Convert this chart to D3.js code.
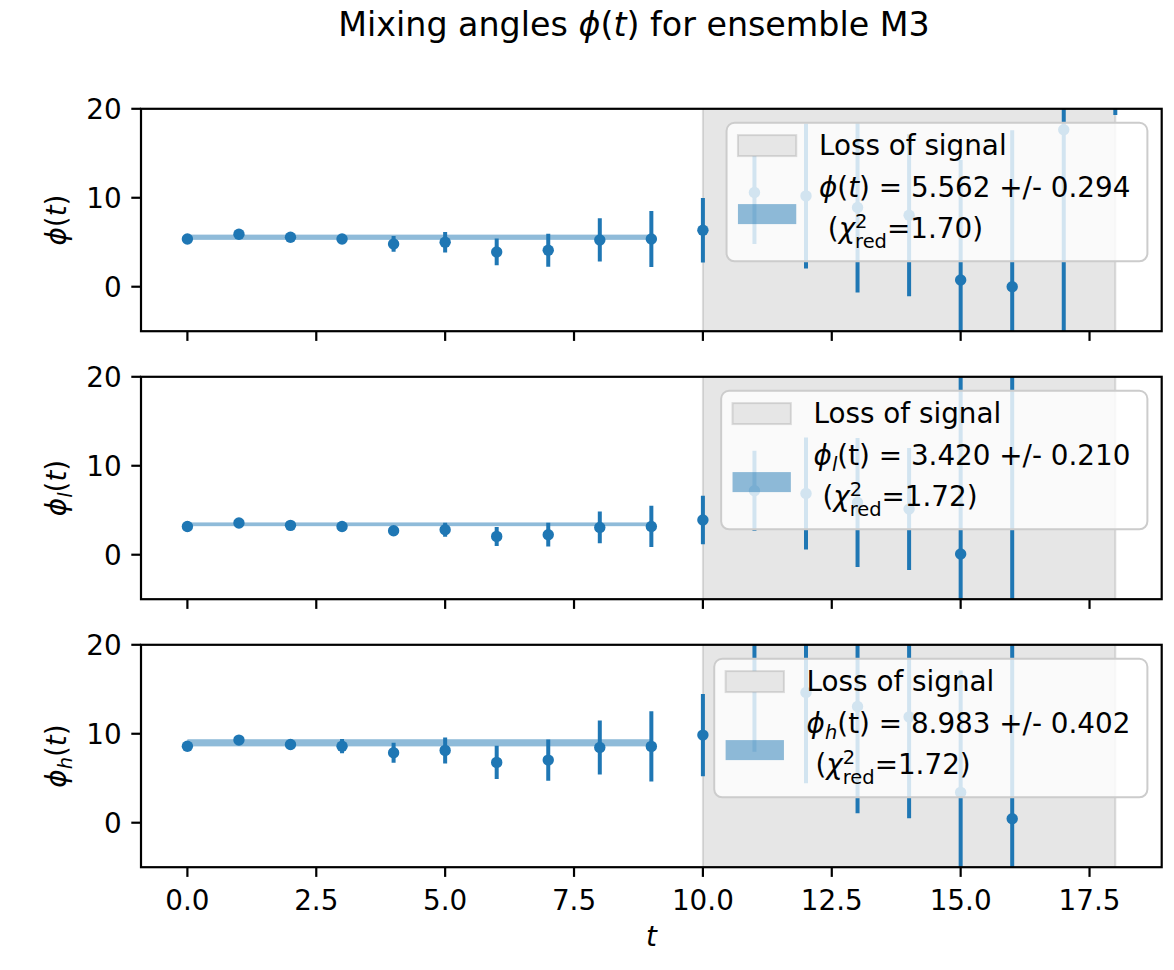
<!DOCTYPE html>
<html><head><meta charset="utf-8">
<script src="https://cdn.jsdelivr.net/npm/d3@7"></script>
<style>
body{margin:0;background:#fff}
text{font-family:"DejaVu Sans";fill:#000;white-space:pre}
</style></head>
<body><svg id="c" width="1174" height="970"></svg>
<script>
// ---------------- data ----------------
const tValues = [0,1,2,3,4,5,6,7,8,9,10,11,12,13,14,15,16,17,18];
const phiVal  = [5.37,5.90,5.56,5.37,4.81,5.00,3.91,4.10,5.26,5.37,6.35,10.59,10.21,8.90,8.04,0.75,0.00,17.65,30.0];
const phiErr  = [0.25,0.30,0.35,0.45,0.88,1.16,1.50,1.85,2.43,3.15,3.63,5.80,8.15,9.55,9.10,13.5,17.6,25.0,10.7];
const phiLVal = [3.18,3.56,3.30,3.18,2.70,2.81,2.06,2.25,3.07,3.18,3.90,7.19,6.89,5.88,5.13,0.08,-8.0,null,null];
const phiLErr = [0.20,0.25,0.30,0.35,0.50,0.79,1.07,1.33,1.78,2.32,2.73,4.50,6.30,7.25,6.86,22.0,35.0,null,null];
const phiHVal = [8.60,9.29,8.80,8.60,7.87,8.13,6.78,7.04,8.46,8.58,9.85,15.28,14.64,13.07,11.90,3.41,0.45,null,null];
const phiHErr = [0.30,0.35,0.45,0.80,1.12,1.46,1.87,2.32,3.03,3.95,4.63,7.30,10.2,12.0,11.4,13.7,25.0,null,null];
const fitVal = [5.562, 3.420, 8.983];
const fitErr = [0.294, 0.210, 0.402];
const fitChi = ["1.70", "1.72", "1.72"];
const fitRange = [0, 9];
const lossRange = [10, 18];
const xTicks = [0, 2.5, 5, 7.5, 10, 12.5, 15, 17.5];
const yTicks = [0, 10, 20];
const subs = ["", "l", "h"];

// ---------------- layout ----------------
const svg = d3.select("#c");
const C0 = "#1f77b4";
const FS = 27.8;
const L = 141, R = 1161.7, PH = 222.4;
const tops = [108.8, 376.8, 644.8];
const x = d3.scaleLinear().domain([-0.9, 18.9]).range([L, R]);

// rich text helper -> one <text> element with positioned tspans
// pieces {t, i(italic), s(scale), dy(em shift), st (1=stack start, 2=stack second)}
function rich(parent, pieces, fs, anchor) {
  const meas = svg.append("text").attr("font-size", fs);
  let cx = 0, sx = 0, sw = 0;
  const pos = [];
  pieces.forEach(p => {
    const size = fs * (p.s || 1);
    meas.attr("font-size", size).attr("font-style", p.i ? "italic" : "normal").text(p.t);
    const w = meas.node().getComputedTextLength();
    if (p.st === 2) cx = sx;
    pos.push({p, x: cx, size});
    if (p.st === 1) { sx = cx; sw = w; cx += w; }
    else if (p.st === 2) { cx = sx + Math.max(sw, w); }
    else cx += w;
  });
  meas.remove();
  const off = anchor === "middle" ? -cx / 2 : 0;
  const t = parent.append("text").attr("font-size", fs);
  pos.forEach(o => {
    t.append("tspan").attr("x", o.x + off).attr("y", (o.p.dy || 0) * fs)
      .attr("font-size", o.size).attr("font-style", o.p.i ? "italic" : "normal").text(o.p.t);
  });
  t.node().__w = cx;
  return t;
}
function phiPieces(sub, tItalic) {
  const a = [{t:"\u03D5", i:1}];
  if (sub) a.push({t:sub, i:1, s:0.7, dy:0.22});
  a.push({t:"("}, {t:"t", i:tItalic?1:0}, {t:")"});
  return a;
}

// title
rich(svg, [{t:"Mixing angles "},{t:"\u03D5",i:1},{t:"("},{t:"t",i:1},{t:")"},{t:" for ensemble M3"}], 33.3, "middle")
  .attr("transform", "translate(634,35.5)");

const series = [[phiVal, phiErr], [phiLVal, phiLErr], [phiHVal, phiHErr]];

series.forEach((sd, k) => {
  const top = tops[k];
  const y = d3.scaleLinear().domain([-5, 20]).range([top + PH, top]);
  const clipId = "clip" + k;
  svg.append("clipPath").attr("id", clipId).append("rect")
    .attr("x", L).attr("y", top).attr("width", R - L).attr("height", PH);
  const g = svg.append("g").attr("clip-path", `url(#${clipId})`);

  // loss of signal span
  g.append("rect").attr("x", x(lossRange[0])).attr("width", x(lossRange[1]) - x(lossRange[0]))
    .attr("y", top - 5).attr("height", PH + 10)
    .attr("fill", "#e6e6e6").attr("stroke", "rgba(128,128,128,0.25)").attr("stroke-width", 2);

  // fit band
  g.append("rect").attr("x", x(fitRange[0])).attr("width", x(fitRange[1]) - x(fitRange[0]))
    .attr("y", y(fitVal[k] + fitErr[k])).attr("height", y(fitVal[k] - fitErr[k]) - y(fitVal[k] + fitErr[k]))
    .attr("fill", C0).attr("fill-opacity", 0.5);

  // error bars + points
  const pts = tValues.map((t, i) => ({t, v: sd[0][i], e: sd[1][i]})).filter(d => d.v !== null);
  g.selectAll(".eb").data(pts).join("line")
    .attr("x1", d => x(d.t)).attr("x2", d => x(d.t))
    .attr("y1", d => y(d.v - d.e)).attr("y2", d => y(d.v + d.e))
    .attr("stroke", C0).attr("stroke-width", 4);
  g.selectAll(".pt").data(pts).join("circle")
    .attr("cx", d => x(d.t)).attr("cy", d => y(d.v)).attr("r", 5.7).attr("fill", C0);

  // axes
  const ax = svg.append("g");
  ax.append("rect").attr("x", L).attr("y", top).attr("width", R - L).attr("height", PH)
    .attr("fill", "none").attr("stroke", "#000").attr("stroke-width", 2.2);
  yTicks.forEach(v => {
    ax.append("line").attr("x1", L).attr("x2", L - 9.7).attr("y1", y(v)).attr("y2", y(v))
      .attr("stroke", "#000").attr("stroke-width", 2.2);
    ax.append("text").attr("x", L - 19.4).attr("y", y(v)).attr("dy", "0.36em")
      .attr("text-anchor", "end").attr("font-size", FS).text(v);
  });
  xTicks.forEach(v => {
    ax.append("line").attr("x1", x(v)).attr("x2", x(v)).attr("y1", top + PH).attr("y2", top + PH + 9.7)
      .attr("stroke", "#000").attr("stroke-width", 2.2);
    if (k === 2) ax.append("text").attr("x", x(v)).attr("y", top + PH + 42.3)
      .attr("text-anchor", "middle").attr("font-size", FS).text(v.toFixed(1));
  });
  // y label
  rich(ax, phiPieces(subs[k], true), FS, "middle")
    .attr("transform", `translate(66,${top + PH/2}) rotate(-90)`);

  // legend
  const lg = svg.append("g");
  const bg = lg.append("rect");
  const l1 = rich(lg, [{t:"Loss of signal"}], FS);
  const l2 = rich(lg, (subs[k] ? phiPieces(subs[k], false) : phiPieces("", true))
                   .concat([{t:" = " + fitVal[k].toFixed(3) + " +/- " + fitErr[k].toFixed(3)}]), FS);
  const l3 = rich(lg, [{t:" ("},{t:"\u03C7",i:1},{t:"2",s:0.7,dy:-0.36,st:1},{t:"red",s:0.7,dy:0.33,st:2},{t:"=" + fitChi[k] + ")"}], FS);
  const tw = Math.max(l1.node().__w, l2.node().__w, l3.node().__w);
  const bw = 92.4 + tw + 17, bh = 138.5;
  const bx = R - 14.3 - bw, by = top + 14;
  bg.attr("x", bx).attr("y", by).attr("width", bw).attr("height", bh).attr("rx", 8)
    .attr("fill", "#fff").attr("fill-opacity", 0.8).attr("stroke", "#cccccc").attr("stroke-width", 2);
  l1.attr("transform", `translate(${bx + 92.4},${by + 32.5})`);
  l2.attr("transform", `translate(${bx + 92.4},${by + 74.3})`);
  l3.attr("transform", `translate(${bx + 92.4},${by + 115.6})`);
  lg.append("rect").attr("x", bx + 11.4).attr("y", by + 12.3).attr("width", 58.3).attr("height", 21)
    .attr("fill", "#e6e6e6").attr("stroke", "rgba(128,128,128,0.25)").attr("stroke-width", 2);
  lg.append("rect").attr("x", bx + 11.4).attr("y", by + 81.3).attr("width", 58.3).attr("height", 20)
    .attr("fill", C0).attr("fill-opacity", 0.5);
});

// x label
rich(svg, [{t:"t", i:1}], FS, "middle").attr("transform", `translate(${(L + R)/2},946)`);
</script></body></html>
